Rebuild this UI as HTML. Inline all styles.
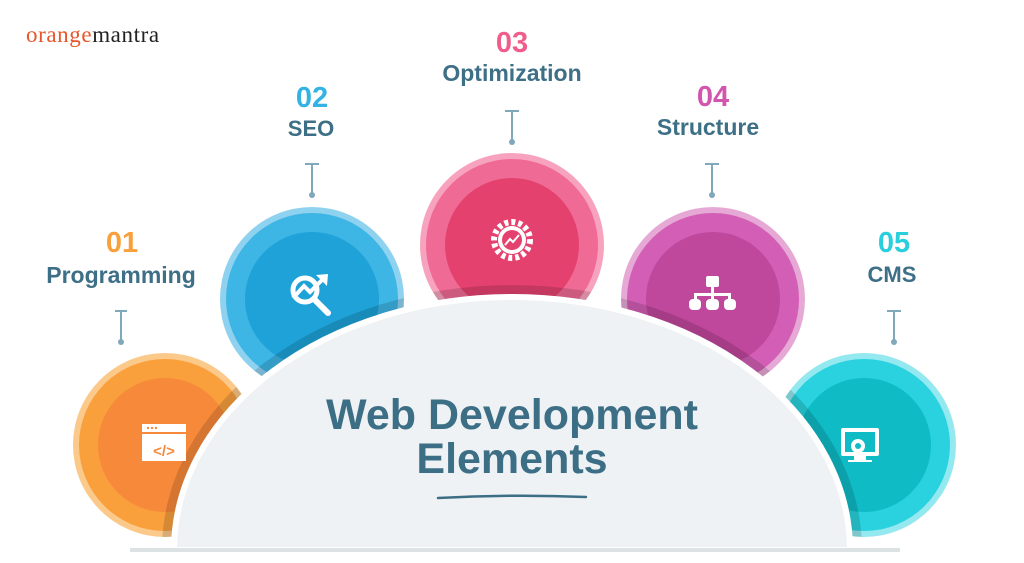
<!DOCTYPE html>
<html><head><meta charset="utf-8"><style>
html,body{margin:0;padding:0;background:#fff;}
svg{display:block;}
text{font-family:"Liberation Sans",sans-serif;font-weight:bold;}
</style></head><body>
<svg width="1024" height="563" viewBox="0 0 1024 563" xmlns="http://www.w3.org/2000/svg">
<defs>
<clipPath id="above"><rect x="0" y="0" width="1024" height="548"/></clipPath>
<clipPath id="circ">
<circle cx="165" cy="445" r="92"/><circle cx="312" cy="299" r="92"/><circle cx="512" cy="245" r="92"/><circle cx="713" cy="299" r="92"/><circle cx="864" cy="445" r="92"/>
</clipPath>
</defs>
<text x="26" y="42" font-size="23" letter-spacing="0.6" style="font-family:'Liberation Serif',serif;font-weight:normal" fill="#e8562b">orange<tspan fill="#222">mantra</tspan></text>

<g clip-path="url(#above)">
<circle cx="165" cy="445" r="92" fill="#fbc98a"/><circle cx="165" cy="445" r="86" fill="#f9a03d"/><circle cx="165" cy="445" r="67" fill="#f7893a"/>
<circle cx="312" cy="299" r="92" fill="#8fd2f0"/><circle cx="312" cy="299" r="86" fill="#3db5e5"/><circle cx="312" cy="299" r="67" fill="#1ea2d8"/>
<circle cx="512" cy="245" r="92" fill="#f7a3bf"/><circle cx="512" cy="245" r="86" fill="#ef6b95"/><circle cx="512" cy="245" r="67" fill="#e5416f"/>
<circle cx="713" cy="299" r="92" fill="#e6a9d6"/><circle cx="713" cy="299" r="86" fill="#d35eb5"/><circle cx="713" cy="299" r="67" fill="#bf479c"/>
<circle cx="864" cy="445" r="92" fill="#94e8ef"/><circle cx="864" cy="445" r="86" fill="#29d2de"/><circle cx="864" cy="445" r="67" fill="#0fbcc6"/>
</g>
<g clip-path="url(#circ)">
<path d="M162,550 A350,265 0 0 1 862,550 Z" fill="#000" opacity="0.14"/>
</g>
<path d="M174,550 A338,253 0 0 1 850,550 Z" fill="#eef2f4" stroke="#fff" stroke-width="6"/>
<rect x="130" y="548" width="770" height="4" fill="#dde2e5"/>

<g fill="#fff">
<rect x="142" y="424" width="44" height="37" fill="#fff"/>
<rect x="142" y="432" width="44" height="2" fill="#f7893a"/>
<text x="164" y="456" font-size="15" fill="#f7893a" text-anchor="middle">&lt;/&gt;</text>
<circle cx="148" cy="428" r="1.2" fill="#f7893a"/><circle cx="152" cy="428" r="1.2" fill="#f7893a"/><circle cx="156" cy="428" r="1.2" fill="#f7893a"/>
<circle cx="305" cy="290" r="12" fill="none" stroke="#fff" stroke-width="5"/>
<line x1="314" y1="299" x2="328" y2="313" stroke="#fff" stroke-width="6" stroke-linecap="round"/>
<polyline points="293,298 304,286 310,292 322,280" fill="none" stroke="#fff" stroke-width="4"/>
<polygon points="316,275 328,274 327,286"/>
<circle cx="512" cy="240" r="18" fill="none" stroke="#fff" stroke-width="6" stroke-dasharray="4 3"/>
<circle cx="512" cy="240" r="14" fill="#fff"/><circle cx="512" cy="240" r="10" fill="#e5416f"/>
<polyline points="505,245 510,239 513,242 519,235" fill="none" stroke="#fff" stroke-width="2"/>
<rect x="706" y="276" width="13" height="11" rx="2"/>
<rect x="711" y="287" width="3" height="7"/><rect x="694" y="293" width="37" height="3"/>
<rect x="694" y="293" width="3" height="6"/><rect x="728" y="293" width="3" height="6"/><rect x="711" y="293" width="3" height="6"/>
<rect x="689" y="299" width="12" height="11" rx="4"/><rect x="706" y="299" width="13" height="11" rx="4"/><rect x="724" y="299" width="12" height="11" rx="4"/>
<rect x="841" y="428" width="38" height="28" rx="2"/>
<rect x="845" y="432" width="30" height="20" fill="#0fbcc6"/>
<circle cx="858" cy="446" r="7" fill="#fff"/><circle cx="858" cy="446" r="3" fill="#0fbcc6"/>
<rect x="854" y="456" width="12" height="5"/><rect x="848" y="460" width="24" height="2"/>
</g>

<g stroke="#7fa8ba" stroke-width="2" fill="#7fa8ba">
<line x1="115" y1="311" x2="127" y2="311"/><line x1="121" y1="311" x2="121" y2="341"/><circle cx="121" cy="342" r="3" stroke="none"/>
<line x1="305" y1="164" x2="319" y2="164"/><line x1="312" y1="164" x2="312" y2="194"/><circle cx="312" cy="195" r="3" stroke="none"/>
<line x1="505" y1="111" x2="519" y2="111"/><line x1="512" y1="111" x2="512" y2="141"/><circle cx="512" cy="142" r="3" stroke="none"/>
<line x1="705" y1="164" x2="719" y2="164"/><line x1="712" y1="164" x2="712" y2="194"/><circle cx="712" cy="195" r="3" stroke="none"/>
<line x1="887" y1="311" x2="901" y2="311"/><line x1="894" y1="311" x2="894" y2="341"/><circle cx="894" cy="342" r="3" stroke="none"/>
</g>

<g text-anchor="middle">
<text x="122" y="252" font-size="29" fill="#f8a13c">01</text>
<text x="121" y="283" font-size="23" fill="#3d6f86">Programming</text>
<text x="312" y="107" font-size="29" fill="#33b2e4">02</text>
<text x="311" y="136" font-size="22" fill="#3d6f86">SEO</text>
<text x="512" y="52" font-size="29" fill="#ee5d8c">03</text>
<text x="512" y="81" font-size="23" fill="#3d6f86">Optimization</text>
<text x="713" y="106" font-size="29" fill="#d157ae">04</text>
<text x="708" y="135" font-size="23" fill="#3d6f86">Structure</text>
<text x="894" y="252" font-size="29" fill="#29cfdc">05</text>
<text x="892" y="282" font-size="22" fill="#3d6f86">CMS</text>
<text x="512" y="429" font-size="43" fill="#3c6e85">Web Development</text>
<text x="512" y="473" font-size="43" fill="#3c6e85">Elements</text>
</g>
<path d="M438,498 Q512,494 586,497" stroke="#3c6e85" stroke-width="2.5" fill="none" stroke-linecap="round"/>
</svg>
</body></html>
